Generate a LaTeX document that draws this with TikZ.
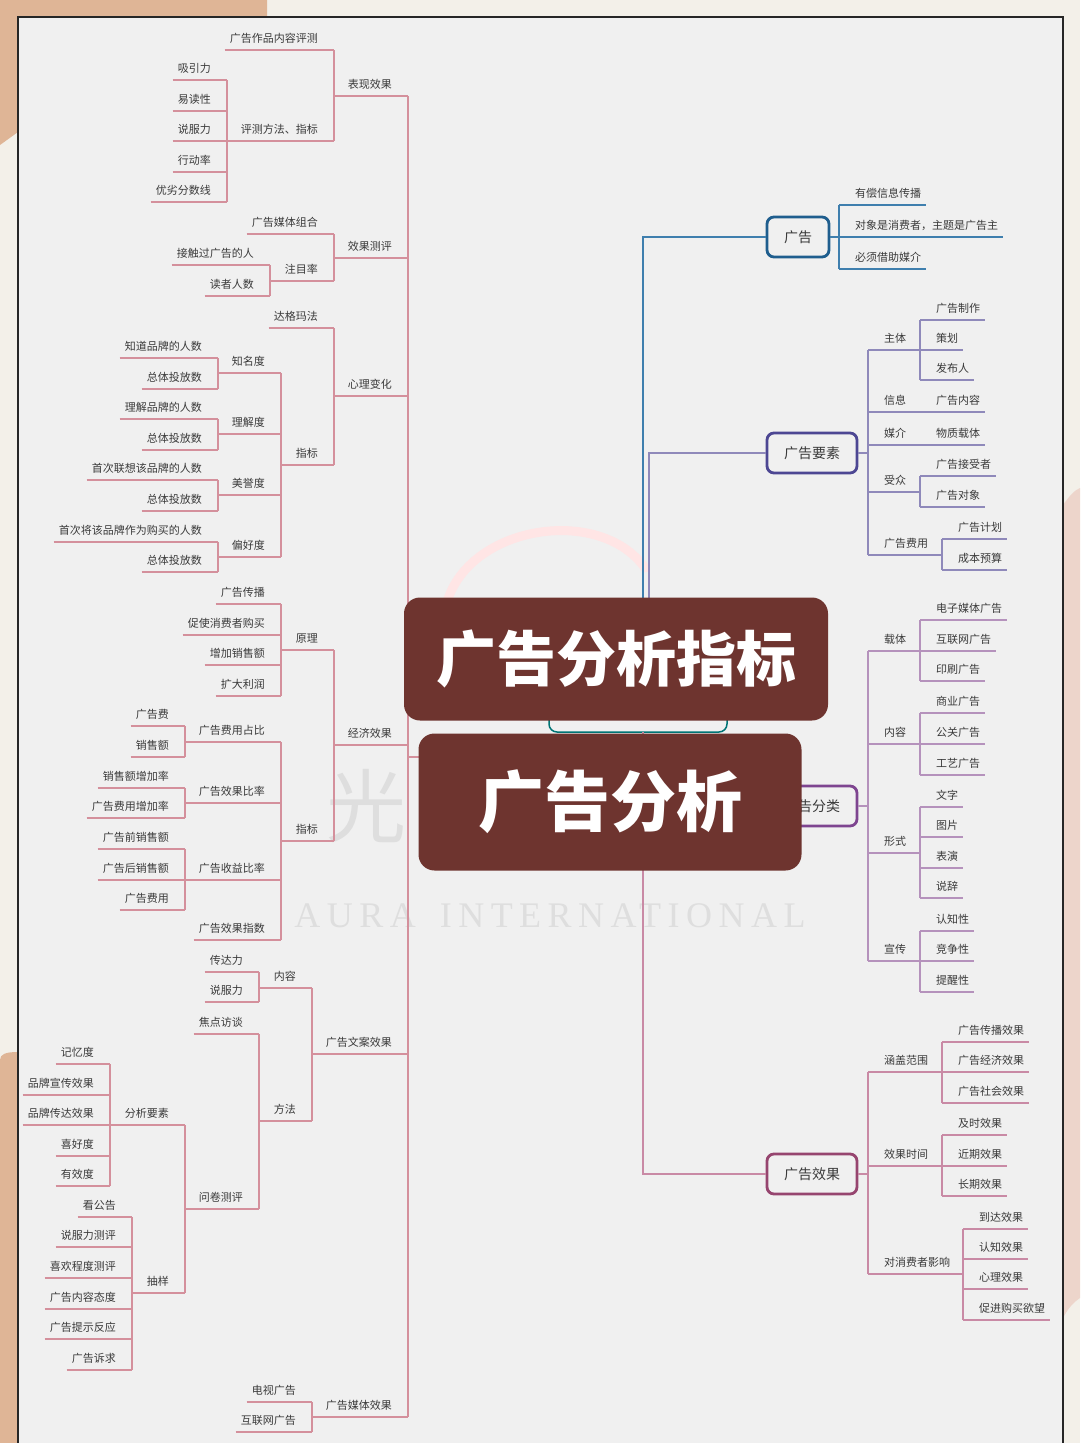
\documentclass[tikz,border=0pt]{standalone}
\usepackage{fontspec}
\setmainfont{Noto Sans CJK SC}
\newfontfamily\wmserif{Liberation Serif}
\usetikzlibrary{calc}
\definecolor{txt}{HTML}{3A3A3A}
\definecolor{pagebg}{HTML}{F3F0E9}
\definecolor{innerbg}{HTML}{F0F0F0}
\definecolor{peach}{HTML}{DFB596}
\definecolor{pinkside}{HTML}{EDD5CB}
\definecolor{leftline}{HTML}{D4909C}
\definecolor{blueline}{HTML}{3F7FAE}
\definecolor{lavline}{HTML}{8F89BA}
\definecolor{vioLine}{HTML}{B592BC}
\definecolor{effline}{HTML}{C98AA5}
\definecolor{titlebg}{HTML}{6E342F}
\definecolor{wm}{HTML}{DEDEDE}
\definecolor{adbox}{HTML}{1F5E8E}
\definecolor{elbox}{HTML}{4D4793}
\definecolor{clbox}{HTML}{7E4590}
\definecolor{efbox}{HTML}{96456F}

\newcommand\Lleaf[4]{%
  \node[lt] (#1) at ({#2-16},{#3-8}) {#4};
  \coordinate (#1-r) at (#2,#3);
  \draw[ln] ($(#1.base west)+(-5,8)$) coordinate (#1-l) -- (#1-r);}
\newcommand\Lmid[5]{%
  \node[lt] (#1) at ({#2-16},{#3-8}) {#5};
  \coordinate (#1-r) at (#2,#3);
  \coordinate (#1-l) at (#4,#3);
  \draw[ln] (#1-l) -- (#1-r);}
\newcommand\Rleaf[4]{%
  \node[rt] (#1) at ({#2+16},{#3-8}) {#4};
  \coordinate (#1-l) at (#2,#3);
  \draw[ln] (#1-l) -- ($(#1.base east)+(5,8)$) coordinate (#1-r);}
\newcommand\Rmid[5]{%
  \node[rt] (#1) at ({#2+16},{#3-8}) {#5};
  \coordinate (#1-l) at (#2,#3);
  \coordinate (#1-r) at (#4,#3);
  \draw[ln] (#1-l) -- (#1-r);}
\newcommand\LBus[2]{\draw[ln] (#1-r) -- (#2-r);}
\newcommand\RBus[2]{\draw[ln] (#1-l) -- (#2-l);}

\begin{document}
\begin{tikzpicture}[x=1pt,y=-1pt,
  lt/.style={anchor=base east, inner sep=0pt, text=txt, font=\fontsize{11}{13}\selectfont},
  rt/.style={anchor=base west, inner sep=0pt, text=txt, font=\fontsize{11}{13}\selectfont},
  ln/.style={draw=leftline, line width=1.1pt},
  lvbox/.style={rounded corners=7pt, line width=2.8pt, minimum height=40pt, fill=innerbg, text=txt, inner sep=0pt, font=\fontsize{14}{16}\selectfont},
  titlebox/.style={fill=titlebg, rounded corners=16pt, text=white, inner sep=0pt, font=\bfseries}
]
\useasboundingbox (0,0) rectangle (1080,1443);
% page background
\fill[pagebg] (0,0) rectangle (1080,1443);
\fill[peach] (0,0) -- (267,0) -- (267,60) -- (18,132) -- (0,145) -- cycle;
\fill[peach] (0,1443) -- (0,1060) .. controls (0,1054) and (6,1052) .. (18,1052) -- (18,1443) -- cycle;
\fill[pinkside] (1063,505) .. controls (1070,495) and (1075,490) .. (1080,488) -- (1080,1298) .. controls (1074,1302) and (1068,1308) .. (1063,1318) -- cycle;
% frame
\fill[innerbg] (18,17) rectangle (1063,1450);
\draw[line width=2pt, black!85] (18,1450) -- (18,17) -- (1063,17) -- (1063,1450);

% watermark
\draw[line width=9pt, color=red!10, line cap=round] (447,602) .. controls (470,525) and (600,505) .. (645,568);
\node[text=wm, inner sep=0pt, font=\fontsize{80}{84}\selectfont] (wmguang) at (366,806) {光};
\node[text=wm, font=\wmserif\fontsize{36}{40}\selectfont\addfontfeature{LetterSpace=18}] (wmaura) at (550,916) {AURA\hspace{24pt}INTERNATIONAL};

% hidden root node (top 600, bottom 732, left 549, right 727)
\node[draw=teal!70!cyan!70!black, line width=1.5pt, rounded corners=8pt, minimum width=178pt, minimum height=132pt] (root) at (638,666) {};
\coordinate (rootTopA) at (643,600);
\coordinate (rootTopB) at (649,600);
\coordinate (rootBot) at (643,732);
\coordinate (rootLeft) at (549,757);
\coordinate (rootRight) at (727,806);

% ===================== LEFT SIDE =====================
\Lmid{L1}{408}{96}{334}{表现效果}
\Lmid{L2}{408}{258}{334}{效果测评}
\Lmid{L3}{408}{396}{334}{心理变化}
\Lmid{L4}{408}{745}{334}{经济效果}
\Lmid{L5}{408}{1054}{312}{广告文案效果}
\Lmid{L6}{408}{1417}{312}{广告媒体效果}
\LBus{L1}{L6}
\draw[ln] (rootLeft) -- (408,757);

% 表现效果
\Lleaf{L1a}{334}{50}{广告作品内容评测}
\Lmid{L1b}{334}{141}{227}{评测方法、指标}
\LBus{L1a}{L1b}
\Lleaf{L1b1}{227}{80}{吸引力}
\Lleaf{L1b2}{227}{111}{易读性}
\Lleaf{L1b3}{227}{141}{说服力}
\Lleaf{L1b4}{227}{172}{行动率}
\Lleaf{L1b5}{227}{202}{优劣分数线}
\LBus{L1b1}{L1b5}

% 效果测评
\Lleaf{L2a}{334}{234}{广告媒体组合}
\Lmid{L2b}{334}{281}{270}{注目率}
\LBus{L2a}{L2b}
\Lleaf{L2b1}{270}{265}{接触过广告的人}
\Lleaf{L2b2}{270}{296}{读者人数}
\LBus{L2b1}{L2b2}

% 心理变化
\Lleaf{L3a}{334}{328}{达格玛法}
\Lmid{L3b}{334}{465}{281}{指标}
\LBus{L3a}{L3b}
\Lmid{L3b1}{281}{373}{218}{知名度}
\Lmid{L3b2}{281}{434}{218}{理解度}
\Lmid{L3b3}{281}{495}{218}{美誉度}
\Lmid{L3b4}{281}{557}{218}{偏好度}
\LBus{L3b1}{L3b4}
\Lleaf{m1a}{218}{358}{知道品牌的人数}
\Lleaf{m1b}{218}{389}{总体投放数}
\LBus{m1a}{m1b}
\Lleaf{m2a}{218}{419}{理解品牌的人数}
\Lleaf{m2b}{218}{450}{总体投放数}
\LBus{m2a}{m2b}
\Lleaf{m3a}{218}{480}{首次联想该品牌的人数}
\Lleaf{m3b}{218}{511}{总体投放数}
\LBus{m3a}{m3b}
\Lleaf{m4a}{218}{542}{首次将该品牌作为购买的人数}
\Lleaf{m4b}{218}{572}{总体投放数}
\LBus{m4a}{m4b}

% 经济效果
\Lmid{L4a}{334}{650}{281}{原理}
\Lmid{L4b}{334}{841}{281}{指标}
\LBus{L4a}{L4b}
\Lleaf{y1}{281}{604}{广告传播}
\Lleaf{y2}{281}{635}{促使消费者购买}
\Lleaf{y3}{281}{665}{增加销售额}
\Lleaf{y4}{281}{696}{扩大利润}
\LBus{y1}{y4}
\Lmid{z1}{281}{742}{185}{广告费用占比}
\Lmid{z2}{281}{803}{185}{广告效果比率}
\Lmid{z3}{281}{880}{185}{广告收益比率}
\Lleaf{z4}{281}{940}{广告效果指数}
\LBus{z1}{z4}
\Lleaf{z1a}{185}{726}{广告费}
\Lleaf{z1b}{185}{757}{销售额}
\LBus{z1a}{z1b}
\Lleaf{z2a}{185}{788}{销售额增加率}
\Lleaf{z2b}{185}{818}{广告费用增加率}
\LBus{z2a}{z2b}
\Lleaf{z3a}{185}{849}{广告前销售额}
\Lleaf{z3b}{185}{880}{广告后销售额}
\Lleaf{z3c}{185}{910}{广告费用}
\LBus{z3a}{z3c}

% 广告文案效果
\Lmid{L5a}{312}{988}{259}{内容}
\Lmid{L5b}{312}{1121}{259}{方法}
\LBus{L5a}{L5b}
\Lleaf{n1}{259}{972}{传达力}
\Lleaf{n2}{259}{1002}{说服力}
\LBus{n1}{n2}
\Lleaf{f1}{259}{1034}{焦点访谈}
\Lmid{f2}{259}{1209}{185}{问卷测评}
\LBus{f1}{f2}
\Lmid{f2a}{185}{1125}{110}{分析要素}
\Lmid{f2b}{185}{1293}{132}{抽样}
\LBus{f2a}{f2b}
\Lleaf{k1}{110}{1064}{记忆度}
\Lleaf{k2}{110}{1095}{品牌宣传效果}
\Lleaf{k3}{110}{1125}{品牌传达效果}
\Lleaf{k4}{110}{1156}{喜好度}
\Lleaf{k5}{110}{1186}{有效度}
\LBus{k1}{k5}
\Lleaf{s1}{132}{1217}{看公告}
\Lleaf{s2}{132}{1247}{说服力测评}
\Lleaf{s3}{132}{1278}{喜欢程度测评}
\Lleaf{s4}{132}{1309}{广告内容态度}
\Lleaf{s5}{132}{1339}{广告提示反应}
\Lleaf{s6}{132}{1370}{广告诉求}
\LBus{s1}{s6}

% 广告媒体效果
\Lleaf{v1}{312}{1402}{电视广告}
\Lleaf{v2}{312}{1432}{互联网广告}
\LBus{v1}{v2}

% ===================== RIGHT SIDE =====================
% 广告
\begin{scope}[ln/.style={draw=blueline, line width=1.1pt}]
\node[lvbox, draw=adbox, minimum width=62pt] (ad) at (798,237) {广告};
\draw[ln] (ad.west) -- (643,237) -- (rootTopA);
\Rleaf{a1}{839}{205}{有偿信息传播}
\Rleaf{a2}{839}{237}{对象是消费者，主题是广告主}
\Rleaf{a3}{839}{269}{必须借助媒介}
\RBus{a1}{a3}
\draw[ln] (ad.east) -- (a2-l);
\end{scope}

% 广告要素
\begin{scope}[ln/.style={draw=lavline, line width=1.1pt}]
\node[lvbox, draw=elbox, minimum width=90pt] (el) at (812,453) {广告要素};
\draw[ln] (el.west) -- (649,453) -- (rootTopB);
\Rmid{e1}{868}{350}{920}{主体}
\Rmid{e2}{868}{412}{920}{信息}
\Rmid{e3}{868}{445}{920}{媒介}
\Rmid{e4}{868}{492}{920}{受众}
\Rmid{e5}{868}{555}{942}{广告费用}
\RBus{e1}{e5}
\draw[ln] (el.east) -- (868,453);
\Rleaf{e1a}{920}{320}{广告制作}
\Rleaf{e1b}{920}{350}{策划}
\Rleaf{e1c}{920}{380}{发布人}
\RBus{e1a}{e1c}
\Rleaf{e2a}{920}{412}{广告内容}
\Rleaf{e3a}{920}{445}{物质载体}
\Rleaf{e4a}{920}{476}{广告接受者}
\Rleaf{e4b}{920}{507}{广告对象}
\RBus{e4a}{e4b}
\Rleaf{e5a}{942}{539}{广告计划}
\Rleaf{e5b}{942}{570}{成本预算}
\RBus{e5a}{e5b}
\end{scope}

% 广告分类
\begin{scope}[ln/.style={draw=vioLine, line width=1.1pt}]
\node[lvbox, draw=clbox, minimum width=90pt] (cl) at (812,806) {广告分类};
\draw[ln] (rootRight) -- (cl.west);
\draw[ln] (cl.east) -- (868,806);
\Rmid{c1}{868}{651}{920}{载体}
\Rmid{c2}{868}{744}{920}{内容}
\Rmid{c3}{868}{853}{920}{形式}
\Rmid{c4}{868}{961}{920}{宣传}
\RBus{c1}{c4}
\Rleaf{c1a}{920}{620}{电子媒体广告}
\Rleaf{c1b}{920}{651}{互联网广告}
\Rleaf{c1c}{920}{681}{印刷广告}
\RBus{c1a}{c1c}
\Rleaf{c2a}{920}{713}{商业广告}
\Rleaf{c2b}{920}{744}{公关广告}
\Rleaf{c2c}{920}{775}{工艺广告}
\RBus{c2a}{c2c}
\Rleaf{c3a}{920}{807}{文字}
\Rleaf{c3b}{920}{837}{图片}
\Rleaf{c3c}{920}{868}{表演}
\Rleaf{c3d}{920}{898}{说辞}
\RBus{c3a}{c3d}
\Rleaf{c4a}{920}{931}{认知性}
\Rleaf{c4b}{920}{961}{竞争性}
\Rleaf{c4c}{920}{992}{提醒性}
\RBus{c4a}{c4c}
\end{scope}

% 广告效果
\begin{scope}[ln/.style={draw=effline, line width=1.1pt}]
\node[lvbox, draw=efbox, minimum width=90pt] (ef) at (812,1174) {广告效果};
\draw[ln] (ef.west) -- (643,1174) -- (rootBot);
\draw[ln] (ef.east) -- (868,1174);
\Rmid{g1}{868}{1072}{942}{涵盖范围}
\Rmid{g2}{868}{1166}{942}{效果时间}
\Rmid{g3}{868}{1274}{963}{对消费者影响}
\RBus{g1}{g3}
\Rleaf{g1a}{942}{1042}{广告传播效果}
\Rleaf{g1b}{942}{1072}{广告经济效果}
\Rleaf{g1c}{942}{1103}{广告社会效果}
\RBus{g1a}{g1c}
\Rleaf{g2a}{942}{1135}{及时效果}
\Rleaf{g2b}{942}{1166}{近期效果}
\Rleaf{g2c}{942}{1196}{长期效果}
\RBus{g2a}{g2c}
\Rleaf{g3a}{963}{1229}{到达效果}
\Rleaf{g3b}{963}{1259}{认知效果}
\Rleaf{g3c}{963}{1289}{心理效果}
\Rleaf{g3d}{963}{1320}{促进购买欲望}
\RBus{g3a}{g3d}
\end{scope}

% ===================== TITLES =====================
\node[titlebox, minimum width=424pt, minimum height=123pt, font=\bfseries\fontsize{60}{64}\selectfont] (t1) at (616,659) {广告分析指标};
\node[titlebox, minimum width=383pt, minimum height=137pt, font=\bfseries\fontsize{66}{70}\selectfont] (t2) at (610,802) {广告分析};
\end{tikzpicture}
\end{document}
